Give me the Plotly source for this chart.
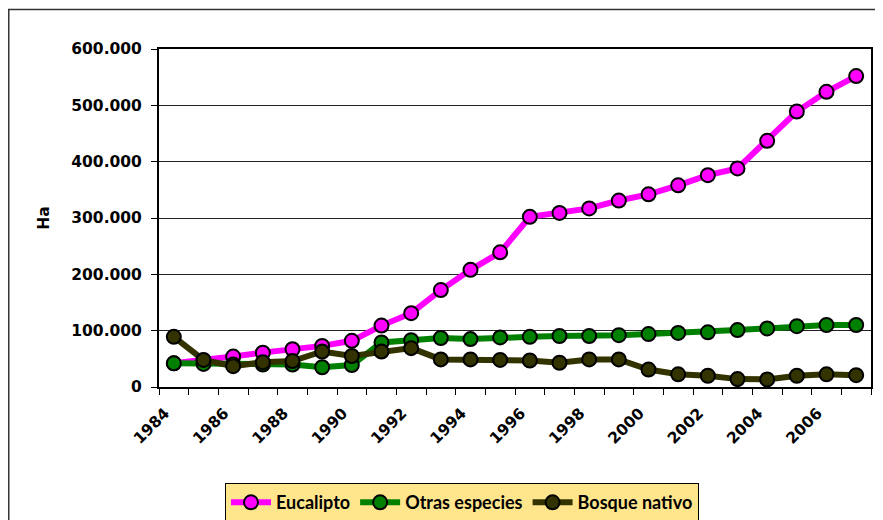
import plotly.graph_objects as go

years = list(range(1984, 2008))
eucalipto = [42000, 47000, 54000, 61000, 67000, 73000, 82000, 109000, 131000, 172000,
             208000, 239000, 302000, 309000, 317000, 331000, 342000, 358000, 376000, 388000,
             437000, 489000, 524000, 552000]
otras = [42000, 41000, 40000, 40000, 40000, 35000, 39000, 79000, 83000, 87000,
         85000, 88000, 89000, 90500, 90500, 92000, 94000, 96000, 97000, 101000,
         104000, 108000, 110000, 110000]
bosque = [89000, 48000, 37000, 44000, 46000, 63000, 55000, 63000, 69000, 49000,
          49000, 48000, 47000, 43000, 49000, 49000, 31000, 22500, 20000, 14000,
          13500, 20000, 22500, 21000]
tick_years = list(range(1984, 2008, 2))

series = [
    ("Eucalipto", eucalipto, "#FF00FF"),
    ("Otras especies", otras, "#008000"),
    ("Bosque nativo", bosque, "#333300"),
]

fig = go.Figure()
for name, vals, color in series:
    fig.add_trace(go.Scatter(
        x=years, y=vals, name=name, mode="lines+markers",
        line=dict(color=color, width=6),
        marker=dict(symbol="circle", size=14, color=color,
                    line=dict(color="black", width=2)),
    ))

axis_font = dict(family="DejaVu Sans", size=15.5, color="black", weight="bold")

fig.update_layout(
    width=875, height=512,
    margin=dict(l=151, r=12, t=41, b=133, autoexpand=False),
    paper_bgcolor="white", plot_bgcolor="white",
    separators=",.",
    showlegend=True,
    legend=dict(
        orientation="h", xref="container", yref="container",
        x=0.248, y=0.072, xanchor="left", yanchor="top",
        bgcolor="#FFE68C", bordercolor="black", borderwidth=1,
        font=dict(family="Lato", size=18, color="black", weight="bold"),
        itemwidth=40, tracegroupgap=0,
    ),
    xaxis=dict(
        range=[1983.5, 2007.5], tickmode="array", tickvals=[y - 0.3 for y in tick_years],
        ticktext=[str(y) for y in tick_years],
        tickangle=-45, tickfont=axis_font, ticks="", automargin=False,
        ticklabelstandoff=9,
        showgrid=False, zeroline=False,
        showline=True, linecolor="black", linewidth=2, mirror=True,
        minor=dict(ticks="outside", tickvals=[1983.5 + i for i in range(25)],
                   ticklen=6, tickwidth=1, tickcolor="black", showgrid=False),
    ),
    yaxis=dict(
        range=[0, 600000], dtick=100000, tickformat=",d", automargin=False,
        tickfont=axis_font, ticks="outside", ticklen=6, tickcolor="black",
        ticklabelstandoff=6,
        showgrid=True, gridcolor="#222222", gridwidth=1, zeroline=False,
        showline=True, linecolor="black", linewidth=2, mirror=True,
        title=dict(text="Ha", font=dict(family="DejaVu Sans", size=15.5, color="black", weight="bold"),
                   standoff=18),
    ),
    shapes=[dict(type="rect", xref="paper", yref="paper",
                 x0=-0.211, x1=1.06, y0=-0.45, y1=1.117,
                 line=dict(color="#333333", width=1.5), layer="below")],
)

fig.write_html("out.html")
